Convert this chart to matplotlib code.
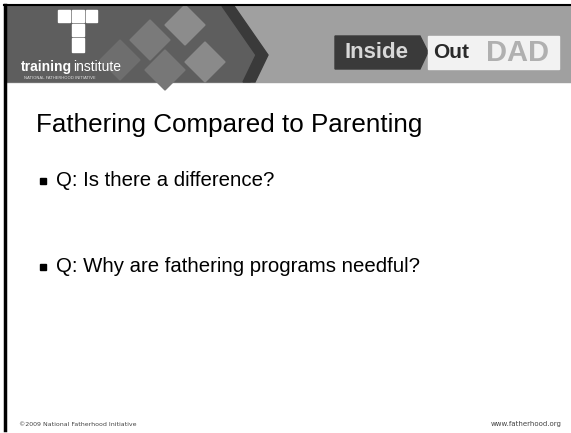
import matplotlib.pyplot as plt
from matplotlib.patches import Rectangle, Polygon

# slide text
title = 'Fathering Compared to Parenting'
bullets = ['Q: Is there a difference?', 'Q: Why are fathering programs needful?']
bullet_y = [181, 267]
footer_left = '©2009 National Fatherhood Initiative'
footer_right = 'www.fatherhood.org'

W, H = 571, 433
fig = plt.figure(figsize=(5.71, 4.33), dpi=100)
ax = fig.add_axes([0, 0, 1, 1])
ax.set_xlim(0, W)
ax.set_ylim(H, 0)
ax.axis('off')

# header band
ax.add_patch(Rectangle((6, 6), W - 6, 76, color='#a0a0a0', zorder=1))
ax.add_patch(Polygon([(6, 6), (228, 6), (262, 55), (250, 82), (6, 82)],
                     color='#5e5e5e', zorder=2))
# diamond pattern
for cx, cy, c in [(150, 40, '#7a7a7a'), (185, 25, '#8c8c8c'), (205, 62, '#8a8a8a'),
                  (120, 60, '#6e6e6e'), (165, 70, '#777777')]:
    s = 20
    ax.add_patch(Polygon([(cx, cy - s), (cx + s, cy), (cx, cy + s), (cx - s, cy)],
                         color=c, zorder=3))
# chevron band
ax.add_patch(Polygon([(222, 6), (234, 6), (268, 55), (255, 82), (243, 82), (256, 55)],
                     color='#3a3a3a', zorder=3))

# T logo
for x0, y0, w, h in [(58, 10, 12, 12), (72, 10, 12, 12), (86, 10, 11, 12),
                     (72, 24, 12, 12), (72, 38, 12, 14)]:
    ax.add_patch(Rectangle((x0, y0), w, h, color='white', zorder=4))
t1 = ax.text(21, 71, 'training', fontsize=10, fontweight='bold', color='white', zorder=5,
             va='baseline', family='Liberation Sans')
fig.canvas.draw()
bb = t1.get_window_extent().transformed(ax.transData.inverted())
ax.text(bb.x1 + 0.5, 71, 'institute', fontsize=10, color='white', zorder=5,
        va='baseline', family='Liberation Sans')
ax.text(24, 78, 'NATIONAL FATHERHOOD INITIATIVE', fontsize=3, color='#dddddd', zorder=5,
        va='center')

# Inside Out DAD logo
ax.add_patch(Polygon([(335, 36), (420, 36), (428, 52), (420, 69), (335, 69)],
                     color='#3a3a3a', zorder=4))
ax.text(377, 53, 'Inside', fontsize=16, fontweight='bold', color='#d8d8d8',
        ha='center', va='center', zorder=5, family='Liberation Sans')
ax.add_patch(Rectangle((428, 36), 131, 33, color='#f2f2f2', zorder=4))
ax.text(451, 53, 'Out', fontsize=15, fontweight='bold', color='#2a2a2a',
        ha='center', va='center', zorder=5, family='Liberation Sans')
ax.text(518, 53, 'DAD', fontsize=21, fontweight='bold', color='#b0b0b0',
        ha='center', va='center', zorder=5, family='Liberation Sans')

# frame lines
ax.plot([4, W], [5, 5], color='black', lw=1.5, zorder=6)
ax.plot([5, 5], [5, 430], color='black', lw=2.5, zorder=6)

# title and bullets
ax.text(36, 125, title, fontsize=18.7, color='black', va='center', family='Liberation Sans')
for txt, y in zip(bullets, bullet_y):
    ax.add_patch(Rectangle((40, y - 3), 6, 6, color='black'))
    ax.text(56, y, txt, fontsize=14.7, color='black', va='center', family='Liberation Sans')

# footer
ax.text(19, 424, footer_left, fontsize=4.5, color='#444444', va='center')
ax.text(562, 424, footer_right, fontsize=5, color='#444444', va='center', ha='right')

fig.savefig('out.png', dpi=100)
